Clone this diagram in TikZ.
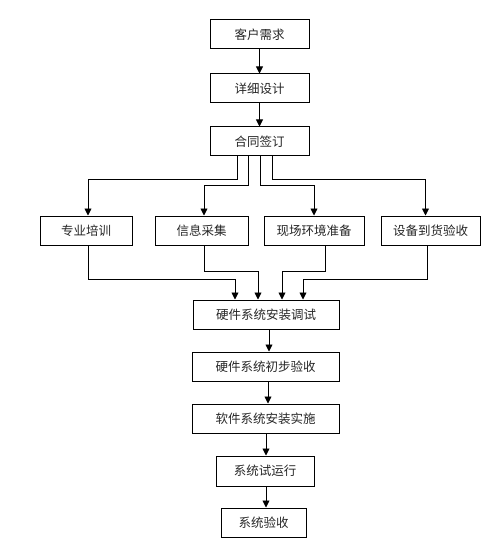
\documentclass[tikz,border=0pt]{standalone}
\usepackage{fontspec}
\setmainfont{Noto Sans CJK SC}
\usetikzlibrary{arrows.meta,calc}
\begin{document}
\begin{tikzpicture}[x=1pt,y=-1pt,
  box/.style={draw=black,line width=1pt,inner sep=0pt,font=\fontsize{12.5}{14}\selectfont,text=black!85},
  arr/.style={draw=black,line width=0.9pt,-{Triangle[length=7pt,width=7pt]}},
  ln/.style={draw=black,line width=0.9pt}]
\useasboundingbox (0,0) rectangle (500,556);
\node[box,minimum width=99pt,minimum height=29pt] (n1) at (259.5,34.5) {客户需求};
\node[box,minimum width=99pt,minimum height=29pt] (n2) at (259.5,88.5) {详细设计};
\node[box,minimum width=99pt,minimum height=29pt] (n3) at (259.5,141.5) {合同签订};
\node[box,minimum width=92pt,minimum height=29pt] (A) at (86,230.5) {专业培训};
\node[box,minimum width=93pt,minimum height=29pt] (B) at (201.5,230.5) {信息采集};
\node[box,minimum width=100pt,minimum height=29pt] (C) at (314,230.5) {现场环境准备};
\node[box,minimum width=99pt,minimum height=29pt] (D) at (430.5,230.5) {设备到货验收};
\node[box,minimum width=146pt,minimum height=29pt] (H1) at (266,314.5) {硬件系统安装调试};
\node[box,minimum width=147pt,minimum height=29pt] (H2) at (265.5,366.5) {硬件系统初步验收};
\node[box,minimum width=147pt,minimum height=29pt] (S) at (265.5,418.5) {软件系统安装实施};
\node[box,minimum width=98pt,minimum height=30pt] (T) at (265,471) {系统试运行};
\node[box,minimum width=85pt,minimum height=29pt] (V) at (263.5,522.5) {系统验收};
% top chain
\draw[arr] (n1.south) -- (n2.north);
\draw[arr] (n2.south) -- (n3.north);
% branches
\draw[arr] ([xshift=-22.5pt]n3.south) -- ++(0,23) -| ([xshift=2pt]A.north);
\draw[arr] ([xshift=-11.5pt]n3.south) -- ++(0,29) -| ([xshift=2.5pt]B.north);
\draw[arr] ([xshift=0.5pt]n3.south) -- ++(0,29) -| (C.north);
\draw[arr] ([xshift=12.5pt]n3.south) -- ++(0,23) -| ([xshift=-5pt]D.north);
% merges
\draw[arr] ([xshift=2pt]A.south) -- ++(0,34) -| ([xshift=-31pt]H1.north);
\draw[arr] ([xshift=2.5pt]B.south) -- ++(0,26) -| ([xshift=-8pt]H1.north);
\draw[arr] ([xshift=11pt]C.south) -- ++(0,26) -| ([xshift=16pt]H1.north);
\draw[arr] ([xshift=-3.5pt]D.south) -- ++(0,34) -| ([xshift=37pt]H1.north);
% bottom chain
\draw[arr] ([xshift=3pt]H1.south) -- ([xshift=3pt]H1.south |- H2.north);
\draw[arr] ([xshift=2.5pt]H2.south) -- ([xshift=2.5pt]H2.south |- S.north);
\draw[arr] ([xshift=0.5pt]S.south) -- ([xshift=0.5pt]S.south |- T.north);
\draw[arr] ([xshift=1pt]T.south) -- ([xshift=1pt]T.south |- V.north);
\end{tikzpicture}
\end{document}
